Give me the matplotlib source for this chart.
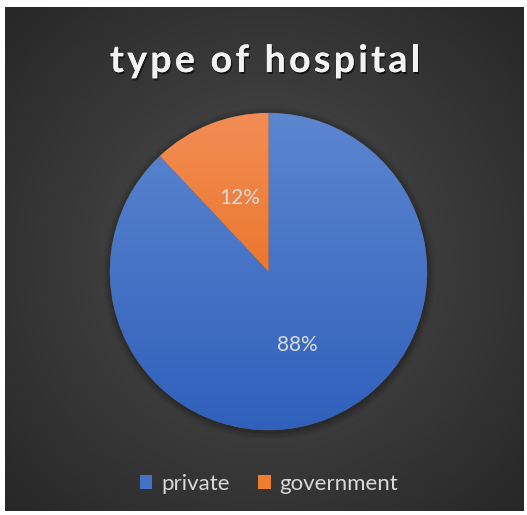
import matplotlib
matplotlib.use("Agg")
import matplotlib.pyplot as plt
import matplotlib.patheffects as pe
from matplotlib.patches import Rectangle, Circle
from matplotlib.colors import LinearSegmentedColormap
from matplotlib.font_manager import FontProperties
from matplotlib.textpath import text_to_path
import numpy as np

plt.rcParams['font.family'] = ['Lato', 'DejaVu Sans']

title = 'type of hospital'
labels = ['private', 'government']
values = [88, 12]
colors = ['#4472c4', '#ed7d31']
# top / bottom shades for each slice fill
shades = [('#5d86d0', '#2f60bb'), ('#f38d55', '#e26208')]

W, H = 527, 515
DPI = 100
fig = plt.figure(figsize=(W / DPI, H / DPI), dpi=DPI)
fig.patch.set_facecolor('white')

# dark panel with a soft radial glow
bg = fig.add_axes([5 / W, 4 / H, 519 / W, 504 / H])
bg.set_axis_off()
yy, xx = np.mgrid[0:1:300j, 0:1:300j]
d = np.sqrt((xx - 0.5) ** 2 + ((yy - 0.5) * 0.97) ** 2) / 0.72
d = np.clip(d, 0, 1)
bg_cmap = LinearSegmentedColormap.from_list('bg', ['#4e4e4e', '#272727'])
bg.imshow(d, cmap=bg_cmap, extent=(0, 1, 0, 1), aspect='auto', origin='lower')
bg.set_xlim(0, 1)
bg.set_ylim(0, 1)

# pie
R = 158.5
cx, cy = 268.5, 271.5
ax = fig.add_axes([(cx - R * 1.05) / W, (H - cy - R * 1.05) / H,
                   2.1 * R / W, 2.1 * R / H])
ax.set_axis_off()

# faint shadow ring behind the pie
for k, a in enumerate([0.10, 0.08, 0.06, 0.04]):
    ax.add_patch(Circle((0.004, -0.012), 1.0 + 0.012 * (k + 1),
                        color='black', alpha=a, lw=0, zorder=0))

wedges, texts, autotexts = ax.pie(
    values, colors=colors, startangle=90, counterclock=False, radius=1,
    autopct='%1.0f%%', pctdistance=0.5,
    wedgeprops=dict(linewidth=0.4, edgecolor='#555555'),
    textprops=dict(color='#dadada', fontsize=15))
ax.set_xlim(-1.05, 1.05)
ax.set_ylim(-1.05, 1.05)

grad = np.linspace(0, 1, 256).reshape(-1, 1)
for w, (top, bot) in zip(wedges, shades):
    cm = LinearSegmentedColormap.from_list('g', [bot, top])
    im = ax.imshow(grad, cmap=cm, extent=(-1, 1, -1, 1), origin='lower',
                   aspect='auto', zorder=w.get_zorder() + 0.1)
    im.set_clip_path(w)
for t in autotexts:
    t.set_zorder(5)

# title with extra letter spacing, placed one glyph at a time
tsize = 27
tprop = FontProperties(family='Lato', weight='bold', size=tsize)
track = 3.3  # extra px between letters
px = DPI / 72.0


def adv(s):
    if not s:
        return 0.0
    return text_to_path.get_text_width_height_descent(s, tprop, ismath=False)[0] * px


total = adv(title) + track * (len(title) - 1)
x0 = 265 - total / 2
shadow = [pe.withSimplePatchShadow(offset=(1, -1.5), shadow_rgbFace='black',
                                   alpha=0.6), pe.Normal()]
for i, ch in enumerate(title):
    if ch == ' ':
        continue
    x = x0 + adv(title[:i]) + track * i
    fig.text(x / W, 1 - 58 / H, ch, ha='left', va='center_baseline',
             fontproperties=tprop, color='#f2f2f2', path_effects=shadow)

handles = [Rectangle((0, 0), 1, 1, facecolor=c, edgecolor='none') for c in colors]
leg = fig.legend(handles, labels, loc='center', bbox_to_anchor=(269 / W, 1 - 484 / H),
                 ncol=2, frameon=False, fontsize=16, labelcolor='#d9d9d9',
                 handlelength=0.55, handleheight=0.55, handletextpad=0.4,
                 columnspacing=1.3)

fig.savefig('out.png', dpi=DPI, facecolor='white')
